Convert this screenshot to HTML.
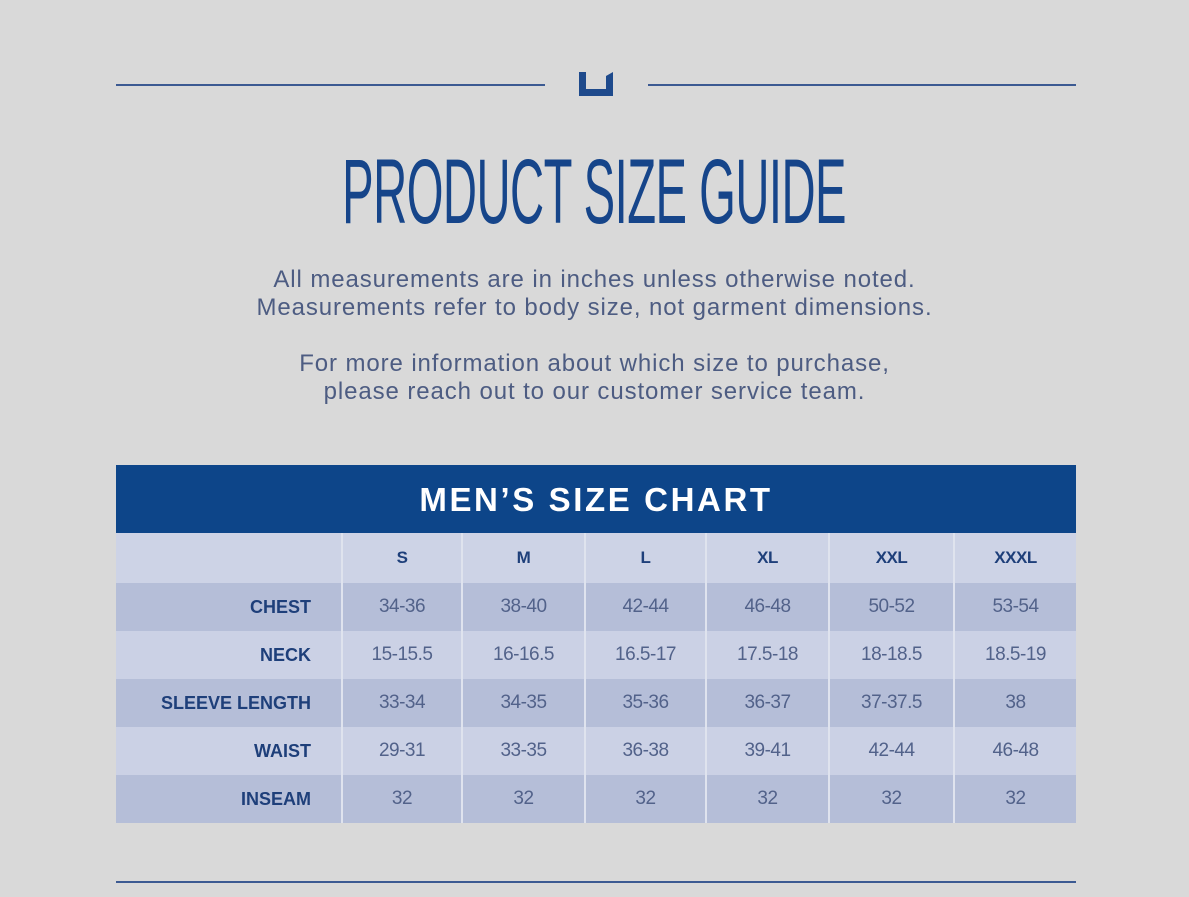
<!DOCTYPE html>
<html><head><style>
body{margin:0;width:1189px;height:897px;background:#d9d9d9;position:relative;overflow:hidden;font-family:"Liberation Sans",sans-serif}
.ln{position:absolute;height:2px;background:#3c5a92}
.t{position:absolute;left:0;width:1189px;text-align:center;color:#4d5c82;font-size:24px;letter-spacing:0.9px}
table{position:absolute;left:116px;top:533px;border-collapse:collapse;width:960px}
td{height:48px;text-align:center;color:#52628a;font-size:19px;border-left:2px solid #dfe3ee;padding:0;letter-spacing:-0.5px}
td:first-child{border-left:none;text-align:right;padding-right:30px;font-weight:bold;color:#1e3f7a;font-size:18px;letter-spacing:0}
tr.h td{height:50px;font-weight:bold;color:#1e3f7a;font-size:17px;background:#cdd3e6}
tr.a td{background:#b5bed8}
tr.b td{background:#cbd1e5}
</style></head><body>
<div class="ln" style="left:116px;top:84px;width:429px"></div>
<div class="ln" style="left:648px;top:84px;width:428px"></div>
<svg style="position:absolute;left:576px;top:70px" width="40" height="30"><path d="M3 2 V26 H37 V2 L30 6 V19 H10 V2 Z" fill="#1e4a8c"/></svg>
<div style="position:absolute;left:0;top:140px;width:1189px;text-align:center;">
<span style="display:inline-block;font-size:92px;color:#16458a;transform:scaleX(0.513);white-space:nowrap;letter-spacing:-1px">PRODUCT SIZE GUIDE</span></div>
<div class="t" style="top:266px">All measurements are in inches unless otherwise noted.</div>
<div class="t" style="top:294px">Measurements refer to body size, not garment dimensions.</div>
<div class="t" style="top:350px">For more information about which size to purchase,</div>
<div class="t" style="top:378px">please reach out to our customer service team.</div>
<div style="position:absolute;left:116px;top:465px;width:960px;height:68px;background:#0d4589;color:#fff;font-weight:bold;font-size:33px;text-align:center;line-height:70px;letter-spacing:2.6px">MEN’S SIZE CHART</div>
<table>
<colgroup><col style="width:226px"><col style="width:120px"><col style="width:123px"><col style="width:121px"><col style="width:123px"><col style="width:125px"><col style="width:122px"></colgroup>
<tr class="h"><td></td><td>S</td><td>M</td><td>L</td><td>XL</td><td>XXL</td><td>XXXL</td></tr>
<tr class="a"><td>CHEST</td><td>34-36</td><td>38-40</td><td>42-44</td><td>46-48</td><td>50-52</td><td>53-54</td></tr>
<tr class="b"><td>NECK</td><td>15-15.5</td><td>16-16.5</td><td>16.5-17</td><td>17.5-18</td><td>18-18.5</td><td>18.5-19</td></tr>
<tr class="a"><td>SLEEVE LENGTH</td><td>33-34</td><td>34-35</td><td>35-36</td><td>36-37</td><td>37-37.5</td><td>38</td></tr>
<tr class="b"><td>WAIST</td><td>29-31</td><td>33-35</td><td>36-38</td><td>39-41</td><td>42-44</td><td>46-48</td></tr>
<tr class="a"><td>INSEAM</td><td>32</td><td>32</td><td>32</td><td>32</td><td>32</td><td>32</td></tr>
</table>
<div class="ln" style="left:116px;top:881px;width:960px"></div>
</body></html>
